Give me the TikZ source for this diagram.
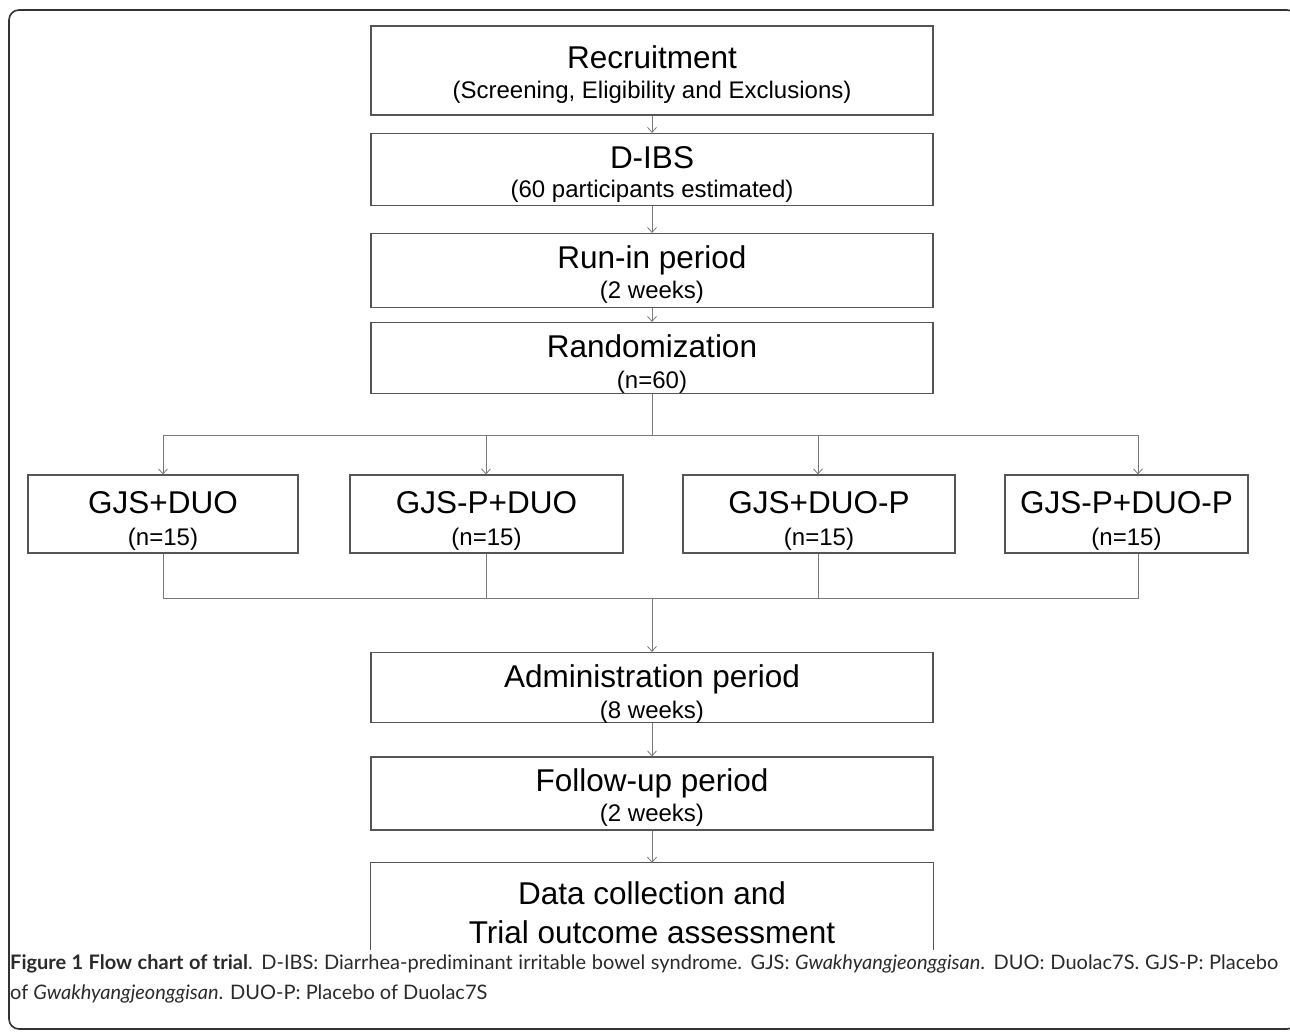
\documentclass[tikz,border=0pt]{standalone}
\usepackage{fontspec}
\setmainfont{Liberation Sans}
\newfontfamily\capfont{Lato}
\usetikzlibrary{arrows.meta}
\definecolor{boxline}{HTML}{555555}
\definecolor{conline}{HTML}{7A7A7A}
\definecolor{frameline}{HTML}{333333}
\definecolor{captext}{HTML}{2A2A2A}
\tikzset{
  stagebox/.style={draw=boxline, line width=1.1pt, minimum width=562pt, inner sep=0pt},
  groupbox/.style={draw=boxline, line width=1.1pt, inner sep=0pt, minimum height=78pt},
  maintext/.style={anchor=base, inner sep=0pt, font=\fontsize{31.5}{31.5}\selectfont},
  subtext/.style={anchor=base, inner sep=0pt, font=\fontsize{24}{24}\selectfont},
  captxt/.style={anchor=base west, inner sep=0pt, text=captext, font=\capfont\fontsize{20}{20}\selectfont},
  conn/.style={draw=conline, line width=0.9pt},
  arr/.style={conn, -{Straight Barb[length=5pt,width=9pt,line width=0.8pt]}},
}
\begin{document}
\begin{tikzpicture}[x=1pt,y=-1pt]
\useasboundingbox (0,0) rectangle (1290,1033);
\begin{scope}
\clip (0,0) rectangle (1290,1033);
\draw[frameline, line width=1.6pt, rounded corners=10pt] (9,10) rectangle (1297,1029);
\end{scope}
% stage boxes
\node[stagebox, minimum height=89pt] (recr) at (652,70.5) {};
\node[stagebox, minimum height=72pt] (dibs) at (652,169.5) {};
\node[stagebox, minimum height=74pt] (runin) at (652,270.5) {};
\node[stagebox, minimum height=71pt] (rand) at (652,358) {};
\node[stagebox, minimum height=70pt] (admin) at (652,687.5) {};
\node[stagebox, minimum height=73pt] (follow) at (652,793.5) {};
\node[minimum width=562pt, minimum height=87pt, inner sep=0pt] (data) at (652,906.5) {};
\draw[boxline, line width=1.1pt] (data.south west) -- (data.north west) -- (data.north east) -- (data.south east);
% group boxes
\node[groupbox, minimum width=270pt] (g1) at (163,514) {};
\node[groupbox, minimum width=273pt] (g2) at (486.5,514) {};
\node[groupbox, minimum width=272pt] (g3) at (819,514) {};
\node[groupbox, minimum width=243pt] (g4) at (1126.5,514) {};
% texts
\node[maintext] (t1a) at (652,68) {Recruitment};
\node[subtext] (t1b) at (652,98.5) {(Screening, Eligibility and Exclusions)};
\node[maintext] (t2a) at (652,168) {D-IBS};
\node[subtext] (t2b) at (652,197.5) {(60 participants estimated)};
\node[maintext] (t3a) at (652,268) {Run-in period};
\node[subtext] (t3b) at (652,298.5) {(2 weeks)};
\node[maintext] (t4a) at (652,357) {Randomization};
\node[subtext] (t4b) at (652,388.5) {(n=60)};
\node[maintext] (g1a) at (163,513) {GJS+DUO};
\node[subtext] (g1b) at (163,545.5) {(n=15)};
\node[maintext] (g2a) at (486.5,513) {GJS-P+DUO};
\node[subtext] (g2b) at (486.5,545.5) {(n=15)};
\node[maintext] (g3a) at (819,513) {GJS+DUO-P};
\node[subtext] (g3b) at (819,545.5) {(n=15)};
\node[maintext] (g4a) at (1126.5,513) {GJS-P+DUO-P};
\node[subtext] (g4b) at (1126.5,545.5) {(n=15)};
\node[maintext] (t5a) at (652,687) {Administration period};
\node[subtext] (t5b) at (652,718.5) {(8 weeks)};
\node[maintext] (t6a) at (652,791) {Follow-up period};
\node[subtext] (t6b) at (652,821.5) {(2 weeks)};
\node[maintext] (t7a) at (652,904) {Data collection and};
\node[maintext] (t7b) at (652,943) {Trial outcome assessment};
% connectors
\draw[arr] (recr.south) -- (dibs.north);
\draw[arr] (dibs.south) -- (runin.north);
\draw[arr] (runin.south) -- (rand.north);
\coordinate (split) at (652,435);
\coordinate (s1) at (163,435);
\coordinate (s2) at (486,435);
\coordinate (s3) at (818,435);
\coordinate (s4) at (1138,435);
\draw[conn] (rand.south) -- (split);
\draw[conn] (s1) -- (s4);
\draw[arr] (s1) -- (s1 |- g1.north);
\draw[arr] (s2) -- (s2 |- g2.north);
\draw[arr] (s3) -- (s3 |- g3.north);
\draw[arr] (s4) -- (s4 |- g4.north);
\coordinate (merge) at (652,598);
\coordinate (m1) at (163,598);
\coordinate (m2) at (486,598);
\coordinate (m3) at (818,598);
\coordinate (m4) at (1138,598);
\draw[conn] (s1 |- g1.south) -- (m1) -- (m4) -- (s4 |- g4.south);
\draw[conn] (s2 |- g2.south) -- (m2);
\draw[conn] (s3 |- g3.south) -- (m3);
\draw[arr] (merge) -- (admin.north);
\draw[arr] (admin.south) -- (follow.north);
\draw[arr] (follow.south) -- (data.north);
% caption
\node[captxt] (cap1) at (10,969)
  {\makebox[1268pt][s]{\textbf{Figure 1 Flow chart of trial}. D-IBS: Diarrhea-prediminant irritable bowel syndrome. GJS: \textit{Gwakhyangjeonggisan}. DUO: Duolac7S. GJS-P: Placebo}};
\node[captxt] (cap2) at (10,999)
  {of \textit{Gwakhyangjeonggisan}. DUO-P: Placebo of Duolac7S};
\end{tikzpicture}
\end{document}
